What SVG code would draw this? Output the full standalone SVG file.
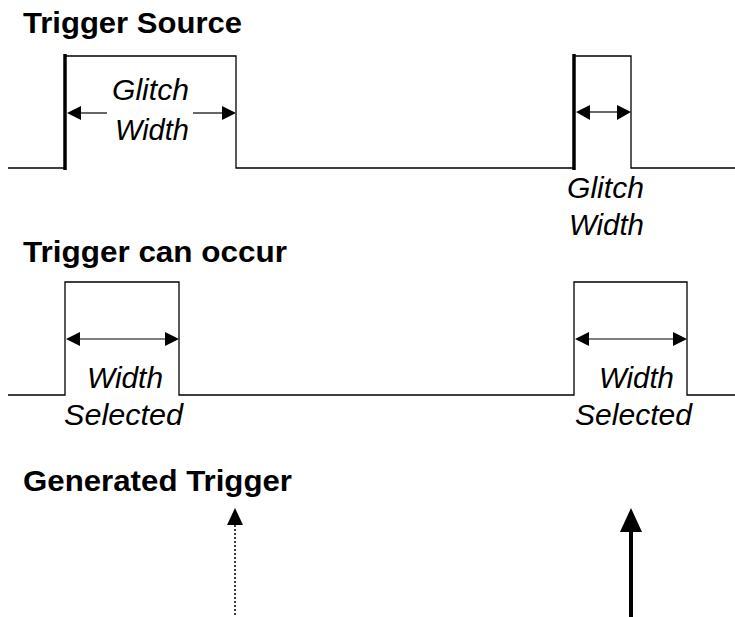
<svg xmlns="http://www.w3.org/2000/svg" width="735" height="617" viewBox="0 0 735 617">
<defs>
<style>
.title{font-family:"Liberation Sans",Arial,sans-serif;font-weight:bold;font-size:30px;fill:#000}
.lbl{font-family:"Liberation Sans",Arial,sans-serif;font-style:italic;font-size:30px;fill:#000}
.wave{fill:none;stroke:#000;stroke-width:1.3}
.edge{stroke:#000;stroke-width:3.5}
.dim{stroke:#000;stroke-width:1.2;fill:none}
.head{fill:#000}
</style>
</defs>
<rect width="735" height="617" fill="#fff"/>

<g id="title-source"><text class="title" x="23" y="33" textLength="219" lengthAdjust="spacingAndGlyphs">Trigger Source</text></g>
<g id="title-occur"><text class="title" x="23" y="262" textLength="264" lengthAdjust="spacingAndGlyphs">Trigger can occur</text></g>
<g id="title-generated"><text class="title" x="23" y="491" textLength="269" lengthAdjust="spacingAndGlyphs">Generated Trigger</text></g>

<g id="source-wave">
<polyline class="wave" points="8,168 65,168"/>
<polyline class="wave" points="65,56 236,56 236,168 574,168"/>
<polyline class="wave" points="574,56 631,56 631,168 735,168"/>
<line class="edge" x1="65" y1="54" x2="65" y2="170"/>
<line class="edge" x1="574" y1="54" x2="574" y2="170"/>
</g>

<g id="occur-wave">
<polyline class="wave" points="8,395 65,395 65,282 179,282 179,395 574,395 574,282 687,282 687,395 735,395"/>
</g>

<g id="label-glitch-1">
<text class="lbl" x="112" y="100" textLength="77" lengthAdjust="spacingAndGlyphs">Glitch</text>
<text class="lbl" x="115" y="140" textLength="74" lengthAdjust="spacingAndGlyphs">Width</text>
</g>
<g id="label-glitch-2">
<text class="lbl" x="567" y="198" textLength="77" lengthAdjust="spacingAndGlyphs">Glitch</text>
<text class="lbl" x="569" y="235" textLength="75" lengthAdjust="spacingAndGlyphs">Width</text>
</g>
<g id="label-width-1">
<text class="lbl" x="87" y="388" textLength="76" lengthAdjust="spacingAndGlyphs">Width</text>
<text class="lbl" x="64" y="425" textLength="119" lengthAdjust="spacingAndGlyphs">Selected</text>
</g>
<g id="label-width-2">
<text class="lbl" x="599" y="388" textLength="75" lengthAdjust="spacingAndGlyphs">Width</text>
<text class="lbl" x="575" y="425" textLength="117" lengthAdjust="spacingAndGlyphs">Selected</text>
</g>

<g id="connectors">
<line class="dim" x1="78" y1="113" x2="107" y2="113" stroke="#444"/>
<line class="dim" x1="193" y1="113" x2="223" y2="113" stroke="#444"/>
<polygon class="head" points="67,113 81,106 81,120"/>
<polygon class="head" points="236,113 222,106 222,120"/>
<line class="dim" x1="588" y1="112" x2="618" y2="112"/>
<polygon class="head" points="576,112 590,105 590,120"/>
<polygon class="head" points="631,112 617,105 617,120"/>
<line class="dim" x1="78" y1="339" x2="166" y2="339"/>
<polygon class="head" points="66,339 80,332 80,346"/>
<polygon class="head" points="179,339 165,332 165,346"/>
<line class="dim" x1="587" y1="339" x2="674" y2="339"/>
<polygon class="head" points="575,339 589,332 589,346"/>
<polygon class="head" points="687,339 673,332 673,346"/>
<line x1="235" y1="525" x2="235" y2="617" stroke="#000" stroke-width="1.5" stroke-dasharray="2,2"/>
<polygon class="head" points="235,508 227,525 243,525"/>
<line x1="631" y1="530" x2="631" y2="617" stroke="#000" stroke-width="4"/>
<polygon class="head" points="631,508 620,532 642,532"/>
</g>
</svg>
